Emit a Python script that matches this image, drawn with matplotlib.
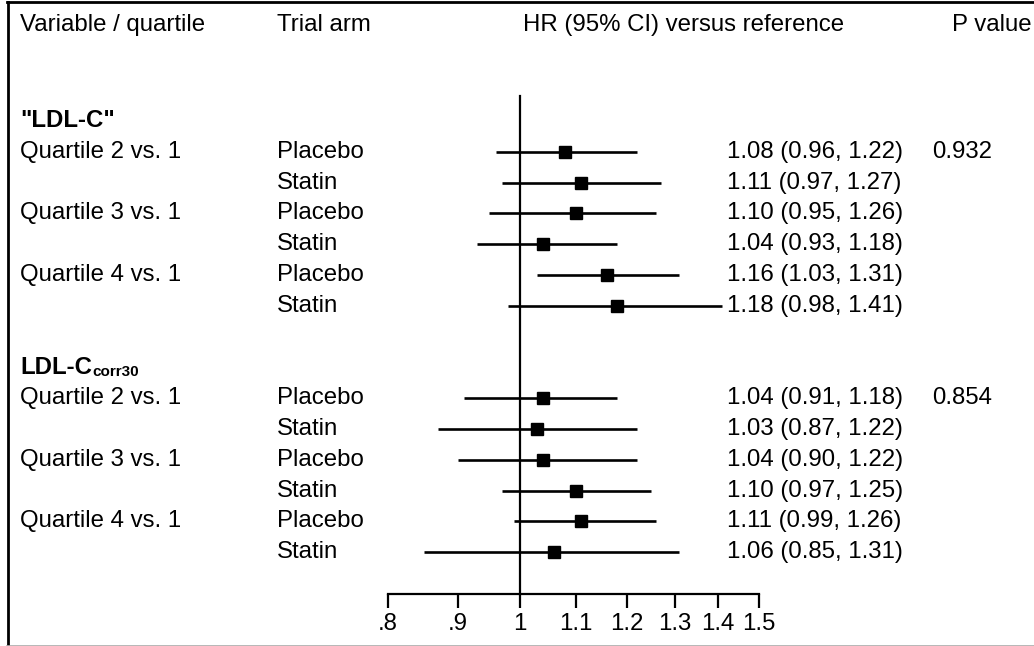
import matplotlib
matplotlib.use('Agg')
import matplotlib.pyplot as plt
from matplotlib.ticker import FixedLocator, NullLocator, FixedFormatter
from matplotlib.transforms import blended_transform_factory
from matplotlib.lines import Line2D

plt.rcParams['font.family'] = ['Liberation Sans', 'DejaVu Sans']

# data
quartiles = ['Quartile 2 vs. 1', 'Quartile 3 vs. 1', 'Quartile 4 vs. 1']
arms = ['Placebo', 'Statin']

ldl_hr = [1.08, 1.11, 1.10, 1.04, 1.16, 1.18]
ldl_lo = [0.96, 0.97, 0.95, 0.93, 1.03, 0.98]
ldl_hi = [1.22, 1.27, 1.26, 1.18, 1.31, 1.41]
ldl_p = '0.932'

corr_hr = [1.04, 1.03, 1.04, 1.10, 1.11, 1.06]
corr_lo = [0.91, 0.87, 0.90, 0.97, 0.99, 0.85]
corr_hi = [1.18, 1.22, 1.22, 1.25, 1.26, 1.31]
corr_p = '0.854'

xticks = [0.8, 0.9, 1.0, 1.1, 1.2, 1.3, 1.4, 1.5]
xtick_labels = ['.8', '.9', '1', '1.1', '1.2', '1.3', '1.4', '1.5']

W, H = 1034, 646
fig = plt.figure(figsize=(W / 100, H / 100), dpi=100)

# row 0 is at 121 px, rows spaced 30.8 px
top_row = (0 - 121) / 30.8
bot_row = (H - 121) / 30.8
axis_row = (594 - 121) / 30.8

ax = fig.add_axes([388 / W, 0, (759 - 388) / W, 1])
ax.set_xscale('log')
ax.set_xlim(0.8, 1.5)
ax.set_ylim(bot_row, top_row)
ax.patch.set_alpha(0)
for s in ['top', 'left', 'right']:
    ax.spines[s].set_visible(False)
ax.spines['bottom'].set_position(('data', axis_row))
ax.spines['bottom'].set_linewidth(1.6)
ax.xaxis.set_major_locator(FixedLocator(xticks))
ax.xaxis.set_major_formatter(FixedFormatter(xtick_labels))
ax.xaxis.set_minor_locator(NullLocator())
ax.tick_params(axis='x', direction='out', length=10, width=1.6, pad=4, labelsize=17.3)
ax.set_yticks([])

# reference line
ax.plot([1, 1], [(96 - 121) / 30.8, axis_row], color='black', lw=1.6)

fx = blended_transform_factory(fig.transFigure, ax.transData)
fs = 17.3

def text(x, y, s, **kw):
    return ax.text(x / W, y, s, transform=fx, fontsize=fs, va='center', ha='left', **kw)

# column headers
hy = (25 - 121) / 30.8
text(20, hy, 'Variable / quartile')
text(277, hy, 'Trial arm')
text(523, hy, 'HR (95% CI) versus reference')
text(952, hy, 'P value')

def block(start, hr, lo, hi, p):
    rows = [start + i for i in range(6)]
    for i, r in enumerate(rows):
        if i % 2 == 0:
            text(20, r, quartiles[i // 2])
        text(277, r, arms[i % 2])
        text(727, r, '%.2f (%.2f, %.2f)' % (hr[i], lo[i], hi[i]))
        ax.plot([lo[i], hi[i]], [r, r], color='black', lw=1.9, solid_capstyle='butt')
    ax.plot(hr, rows, 's', color='black', ms=8, ls='none')
    text(932, rows[0], p)

t1 = text(20, 0, '"LDL-C"', fontweight='bold')
block(1, ldl_hr, ldl_lo, ldl_hi, ldl_p)

t2 = text(20, 8, 'LDL-C', fontweight='bold')
ax.annotate('corr30', xy=(1, 0.0), xycoords=t2, fontsize=11, fontweight='bold',
            ha='left', va='bottom')
block(9, corr_hr, corr_lo, corr_hi, corr_p)

# frame lines
fig.add_artist(Line2D([7.5 / W, 7.5 / W], [0, 1 - 2 / H], color='black', lw=2, transform=fig.transFigure))
fig.add_artist(Line2D([7 / W, 1], [1 - 2 / H, 1 - 2 / H], color='black', lw=2, transform=fig.transFigure))
fig.add_artist(Line2D([7 / W, 1], [0.5 / H, 0.5 / H], color='#aaaaaa', lw=1.2, transform=fig.transFigure))

fig.savefig('out.png', dpi=100)
